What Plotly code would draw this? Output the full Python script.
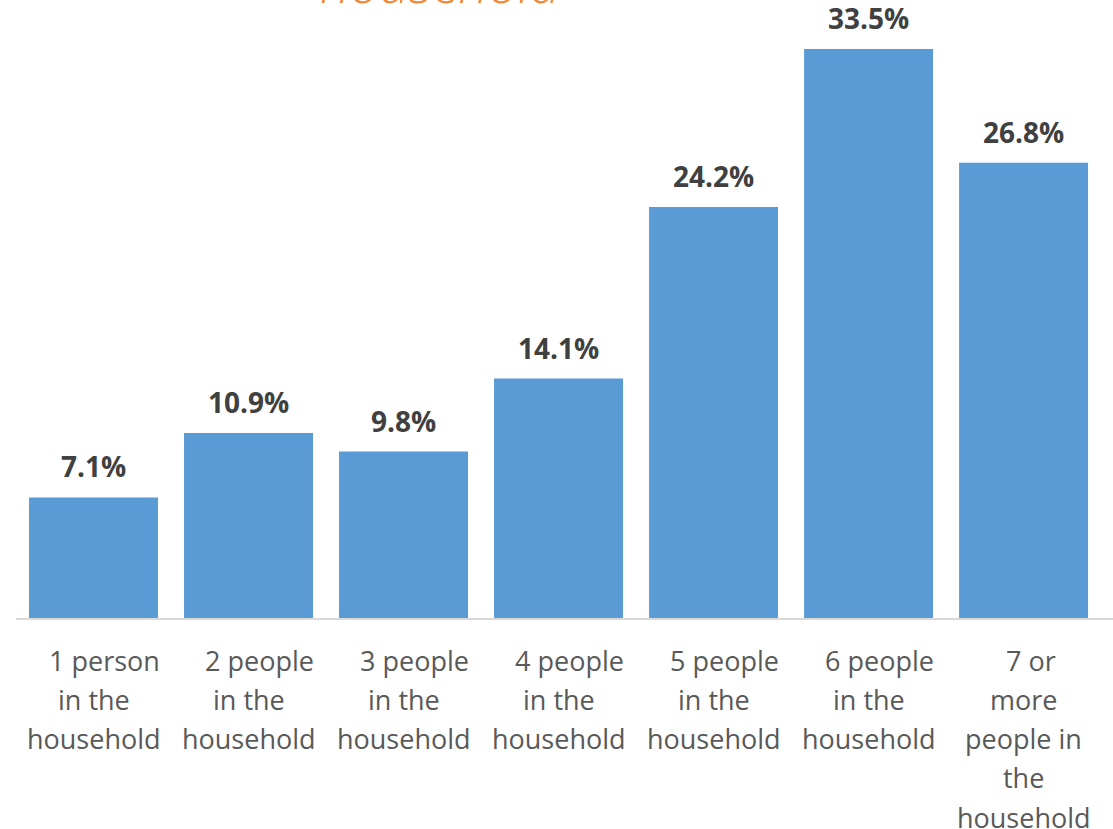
import plotly.graph_objects as go

# share of respondents by household size
categories = [
    "\u00a0\u00a0\u00a01 person<br>in the<br>household",
    "\u00a0\u00a0\u00a02 people<br>in the<br>household",
    "\u00a0\u00a0\u00a03 people<br>in the<br>household",
    "\u00a0\u00a0\u00a04 people<br>in the<br>household",
    "\u00a0\u00a0\u00a05 people<br>in the<br>household",
    "\u00a0\u00a0\u00a06 people<br>in the<br>household",
    "\u00a0\u00a07 or<br>more<br>people in<br>the<br>household",
]
values = [7.1, 10.9, 9.8, 14.1, 24.2, 33.5, 26.8]
value_labels = ["7.1%", "10.9%", "9.8%", "14.1%", "24.2%", "33.5%", "26.8%"]
title_tail = "household"

x_keys = list(range(len(values)))

fig = go.Figure()
fig.add_trace(go.Bar(
    x=x_keys,
    y=values,
    marker=dict(color="#5B9BD5", line=dict(width=0)),
    width=0.832,
    hoverinfo="skip",
))

# data labels above bars
for k, v, lab in zip(x_keys, values, value_labels):
    fig.add_annotation(
        x=k, y=v, xref="x", yref="y",
        text="<b>" + lab + "</b>",
        showarrow=False, yanchor="middle", yshift=31,
        font=dict(family="Open Sans", size=28, color="#404040"),
    )

# category labels, one annotation per line for Excel-like line spacing
for k, cat in zip(x_keys, categories):
    for i, line in enumerate(cat.split("<br>")):
        fig.add_annotation(
            x=k, y=0, xref="x", yref="y",
            text=line,
            showarrow=False, yanchor="middle", yshift=-(42 + 39.3 * i),
            font=dict(family="Open Sans", size=27, color="#595959"),
        )

# title, cut off by the top edge of the picture
fig.add_annotation(
    x=(441 - 16) / 1097, y=1, xref="paper", yref="paper",
    text="<i>" + title_tail + "</i>",
    showarrow=False, xanchor="center", yanchor="bottom", yshift=-21,
    font=dict(family="Open Sans", size=53, color="#F0883A", weight=300),
)

fig.update_layout(
    width=1113, height=829,
    margin=dict(l=16, r=0, t=0, b=211),
    plot_bgcolor="white", paper_bgcolor="white",
    showlegend=False,
    bargap=0.168,
)
fig.update_xaxes(
    range=[-0.5, 6.577], showticklabels=False, showgrid=False,
    showline=True, linecolor="#D9D9D9", linewidth=2, zeroline=False,
)
fig.update_yaxes(
    range=[0, 36.39], visible=False, showgrid=False, zeroline=False,
)

# drop the default page margin so the figure sits at the window corner
fig.write_html("out.html", config={"displayModeBar": False},
               post_script="document.body.style.margin='0';")
